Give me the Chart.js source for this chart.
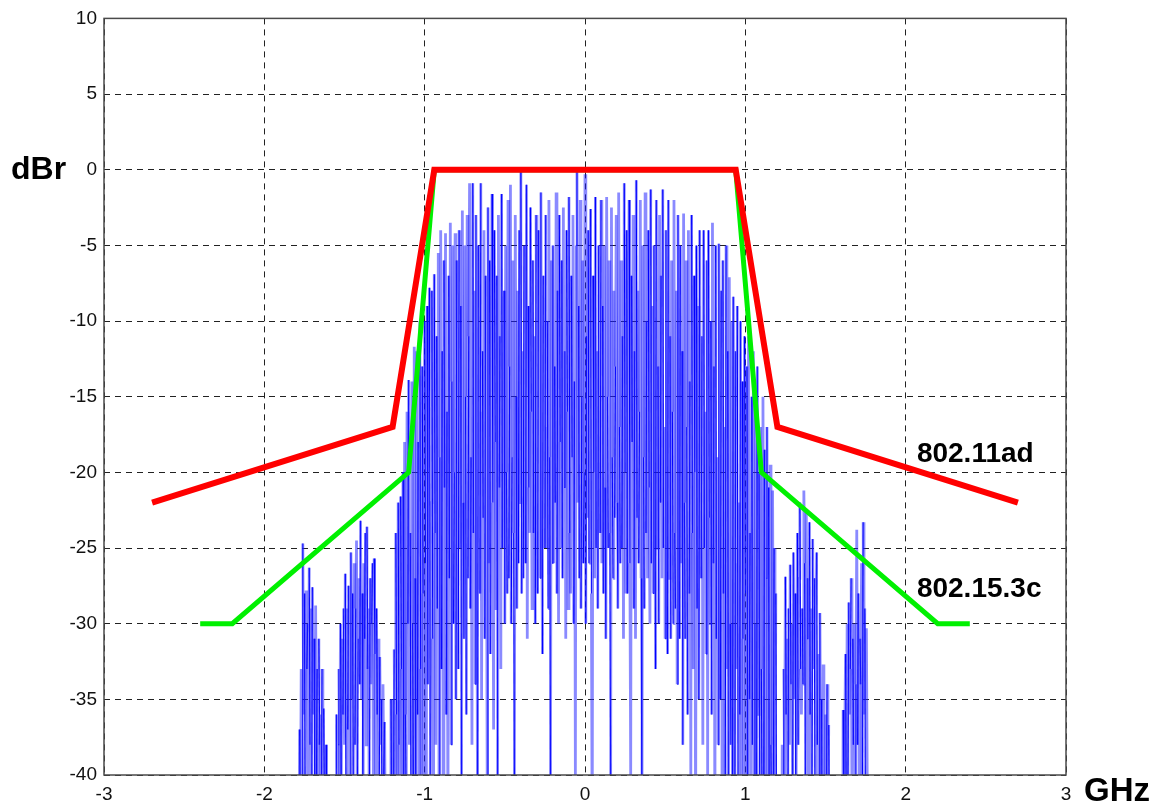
<!DOCTYPE html>
<html>
<head>
<meta charset="utf-8">
<script src="https://cdn.jsdelivr.net/npm/chart.js@4.4.1/dist/chart.umd.min.js"></script>
<style>
  html, body { margin: 0; padding: 0; background: #ffffff; }
  #wrap { width: 1160px; height: 808px; position: relative; }
</style>
</head>
<body>
<div id="wrap"><canvas id="c" width="1160" height="808"></canvas></div>
<script>
// ---- Data ----
const xTicks = [-3, -2, -1, 0, 1, 2, 3];
const yTicks = [-40, -35, -30, -25, -20, -15, -10, -5, 0, 5, 10];

// 802.11ad spectral mask (GHz, dBr)
const maskAdFreq = [-2.7, -1.2, -0.94, 0.94, 1.2, 2.7];
const maskAdLevel = [-22, -17, 0, 0, -17, -22];

// 802.15.3c spectral mask (GHz, dBr)
const mask3cFreq = [-2.4, -2.2, -1.1, -0.94, 0.94, 1.1, 2.2, 2.4];
const mask3cLevel = [-30, -30, -20, 0, 0, -20, -30, -30];

// Measured spectrum, sampled every 0.005 GHz from -1.80 GHz (dBr); one row = 0.1 GHz
const specStart = -1.80;
const specStep = 0.005;
const specLevels = [
  -60, -60, -60, -60, -37, -45, -33, -40, -24.7, -36, -28, -44, -27.8, -33, -30, -42, -26.3, -38, -29, -45,          // -1.80
  -27.6, -36, -31, -45, -28.8, -40, -33, -45, -31, -38, -36, -45, -33, -45, -35.6, -42, -45, -38, -60, -60,          // -1.70
  -60, -60, -60, -60, -60, -60, -60, -60, -60, -60, -36, -45, -38, -33, -42, -30, -40, -31, -36, -29,                // -1.60
  -38, -26.7, -45, -29, -37, -27.5, -32, -45, -25.3, -35, -28, -40, -26, -38, -29, -24.5, -45, -31, -27, -34,        // -1.50
  -23.2, -35, -28, -45, -26, -31, -24, -38, -23.6, -33, -29, -45, -27, -34, -30, -26, -40, -25.7, -32, -45,          // -1.40
  -29, -36, -31, -45, -32.2, -38, -35, -45, -34, -40, -36.5, -45, -60, -60, -60, -60, -60, -60, -35, -45,            // -1.30
  -35, -45, -31.7, -40, -24, -36, -42, -22, -38, -45, -21.6, -33, -40, -20, -45, -18, -36, -42, -16, -30,            // -1.20
  -13.9, -38, -24, -45, -14, -30, -40, -11.7, -27, -45, -12, -36, -18, -42, -10, -33, -45, -13, -28, -40,            // -1.10
  -10, -26, -45, -9, -34, -15, -7.8, -40, -22, -8, -31, -45, -6.9, -24, -38, -11, -29, -5.5, -42, -19,               // -1.00
  -4, -33, -12, -40, -6, -21, -4.2, -36, -16, -45, -7, -27, -3.5, -38, -14, -5, -30, -20, -4.2, -35,                 // -0.90
  -6, -18, -33, -4, -25, -9, -40, -2.7, -22, -31, -5, -15, -36, -3, -27, -11, -0.9, -29, -19, -38,                   // -0.80
  -0.9, -24, -8, -34, -3, -20, -45, -5, -16, -28, -0.9, -35, -12, -23, -4, -31, -7, -19, -40, -2.5,                  // -0.70
  -26, -6, -32, -14, -1.6, -22, -37, -4, -18, -29, -7, -40, -3, -21, -11, -33, -1.6, -25, -16, -8,                   // -0.60
  -30, -5, -20, -28, -2, -27, -13, -1, -30, -19, -6, -24, -40, -3, -15, -29, -8, -26, -4, -22,                       // -0.50
  0, -28, -12, -27, -5, -18, -26, -1, -31, -9, -21, -24, -2.5, -16, -29, -6, -24, -11, -30, -3,                      // -0.40
  -20, -28, -4, -14, -27, -1.5, -23, -32, -7, -17, -25, -3, -25, -10, -29, -2, -19, -40, -6, -26,                    // -0.30
  -5, -26, -13, -22, -1.5, -28, -8, -30, -3, -18, -25, -6, -27, -2.5, -21, -12, -31, -4, -16, -29,                   // -0.20
  -1.8, -24, -28, -7, -19, -3, -30, -14, -40, -5, 0, -22, -9, -27, -2, -29, -15, -6, -26, -20,                       // -0.10
  -0.3, -30, -11, -23, -4, -26, -16, -2.6, -28, -45, -7, -20, -27, -1.8, -25, -12, -29, -5, -18, -24,                //  0.00
  -2, -26, -9, -28, -5, -21, -31, -1.8, -15, -25, -6, -24, -40, -2.5, -19, -27, -8, -23, -13, -3,                    //  0.10
  -22, -29, -1.5, -17, -26, -6, -25, -11, -31, -0.9, -20, -28, -4, -28, -14, -2, -26, -40, -7, -18,                  //  0.20
  -3, -29, -12, -31, -0.7, -23, -8, -26, -16, -2, -27, -45, -5, -19, -29, -1.5, -24, -10, -27, -4,                   //  0.30
  -21, -30, -1.3, -26, -9, -28, -5, -18, -33, -2, -25, -13, -30, -3, -22, -7, -27, -1.3, -25, -17,                   //  0.40
  -31, -4, -20, -32, -2, -27, -11, -31, -6, -16, -30, -2, -24, -29, -8, -34, -3, -19, -31, -5,                       //  0.50
  -26, -12, -38, -2.9, -22, -31, -6, -17, -36, -4, -28, -14, -40, -3, -24, -33, -7, -20, -45, -5,                    //  0.60
  -29, -9, -35, -4, -21, -27, -11, -38, -4, -25, -16, -32, -6, -40, -4, -23, -30, -10, -36, -3.5,                    //  0.70
  -26, -13, -45, -5, -31, -19, -38, -4.9, -24, -35, -8, -42, -6, -28, -17, -40, -5, -33, -12, -45,                   //  0.80
  -7.1, -30, -38, -10, -45, -8.4, -26, -40, -12, -33, -9, -45, -22, -36, -10, -42, -14, -31, -45, -11,               //  0.90
  -28, -40, -13, -45, -11, -35, -24, -45, -15, -38, -12, -42, -30, -16, -45, -13, -36, -20, -45, -17,                //  1.00
  -33, -45, -15, -40, -18.5, -45, -27, -17, -42, -21, -45, -19.5, -38, -45, -21.2, -40, -25, -45, -28, -45,          //  1.10
  -60, -60, -60, -60, -60, -60, -38, -45, -33, -40, -26.9, -36, -31, -45, -29, -38, -26.1, -34, -30, -42,            //  1.20
  -25.3, -35, -28, -45, -31, -24, -38, -27, -22, -33, -36, -29, -34, -21.2, -26, -40, -22.5, -31, -27, -45,          //  1.30
  -23.3, -36, -29, -42, -24.4, -33, -27, -45, -30, -25.3, -38, -32, -45, -29.3, -40, -35, -45, -32.7, -42, -45,      //  1.40
  -36, -45, -34, -45, -36.7, -45, -40, -45, -60, -60, -60, -60, -60, -60, -60, -60, -60, -60, -60, -60,              //  1.50
  -60, -60, -35.7, -45, -38, -32, -42, -30, -40, -28.6, -36, -33, -27, -42, -31, -38, -30, -45, -34, -23.8,          //  1.60
  -38, -28, -42, -31, -34, -26, -45, -23.3, -36, -29, -45, -30.3, -40, -60, -60, -60, -60, -60, -60, -60,            //  1.70
  -60                                                                                                                //  1.80
];

const labelAd = { text: '802.11ad', x: 2.07, y: -18.8 };
const label3c = { text: '802.15.3c', x: 2.07, y: -27.7 };

// ---- Build datasets ----
const pts = (xs, ys) => xs.map((x, i) => ({ x: x, y: ys[i] }));
const specPoints = specLevels.map((v, i) => ({ x: +(specStart + i * specStep).toFixed(4), y: v }));

const FONT = "'Liberation Sans', Arial, Helvetica, sans-serif";

const decorPlugin = {
  id: 'decor',
  afterDatasetsDraw(chart) {
    const { ctx, chartArea: a, scales } = chart;
    ctx.save();
    ctx.strokeStyle = '#4a4a4a';
    ctx.lineWidth = 1.5;
    ctx.setLineDash([]);
    ctx.strokeRect(a.left, a.top, a.right - a.left, a.bottom - a.top);
    ctx.fillStyle = '#000';
    ctx.font = 'bold 32px ' + FONT;
    ctx.textBaseline = 'middle';
    ctx.textAlign = 'left';
    ctx.fillText('dBr', 11, scales.y.getPixelForValue(0));
    ctx.font = 'bold 33px ' + FONT;
    ctx.fillText('GHz', 1084, 792);
    ctx.font = 'bold 28px ' + FONT;
    [labelAd, label3c].forEach(l => {
      ctx.fillText(l.text, scales.x.getPixelForValue(l.x), scales.y.getPixelForValue(l.y));
    });
    ctx.restore();
  }
};

new Chart(document.getElementById('c'), {
  type: 'scatter',
  data: {
    datasets: [
      {
        label: '802.11ad',
        data: pts(maskAdFreq, maskAdLevel),
        showLine: true,
        borderColor: '#ff0000',
        borderWidth: 6,
        pointRadius: 0,
        borderJoinStyle: 'miter',
        clip: false
      },
      {
        label: '802.15.3c',
        data: pts(mask3cFreq, mask3cLevel),
        showLine: true,
        borderColor: '#00f000',
        borderWidth: 5,
        pointRadius: 0,
        borderJoinStyle: 'miter',
        clip: false
      },
      {
        label: 'spectrum',
        data: specPoints,
        showLine: true,
        borderColor: 'rgba(0,0,255,0.5)',
        borderWidth: 1.2,
        pointRadius: 0,
        segment: {
          borderColor: c => (c.p0DataIndex % 3 === 1 ? '#0000ff' : 'rgba(30,30,255,0.52)'),
          borderWidth: c => (c.p0DataIndex % 3 === 1 ? 1.1 : 2.8)
        }
      }
    ]
  },
  options: {
    responsive: false,
    animation: false,
    layout: { padding: { left: 0, right: 94, top: 17, bottom: 0 } },
    plugins: { legend: { display: false }, tooltip: { enabled: false } },
    scales: {
      x: {
        type: 'linear',
        min: -3, max: 3,
        afterBuildTicks: s => { s.ticks = xTicks.map(v => ({ value: v })); },
        afterFit: s => { s.height = 33; },
        grid: { color: '#222', lineWidth: 1, drawTicks: false },
        border: { display: false, dash: [6, 5] },
        ticks: { padding: 8, color: '#111', font: { family: FONT, size: 19 }, maxRotation: 0 }
      },
      y: {
        type: 'linear',
        min: -40, max: 10,
        afterBuildTicks: s => { s.ticks = yTicks.map(v => ({ value: v })); },
        afterFit: s => { s.width = 104; },
        grid: { color: '#222', lineWidth: 1, drawTicks: false },
        border: { display: false, dash: [6, 5] },
        ticks: { padding: 7, color: '#111', font: { family: FONT, size: 19 } }
      }
    }
  },
  plugins: [decorPlugin]
});
if (specLevels.length !== 721) { throw new Error('specLevels length ' + specLevels.length); }
</script>
</body>
</html>
